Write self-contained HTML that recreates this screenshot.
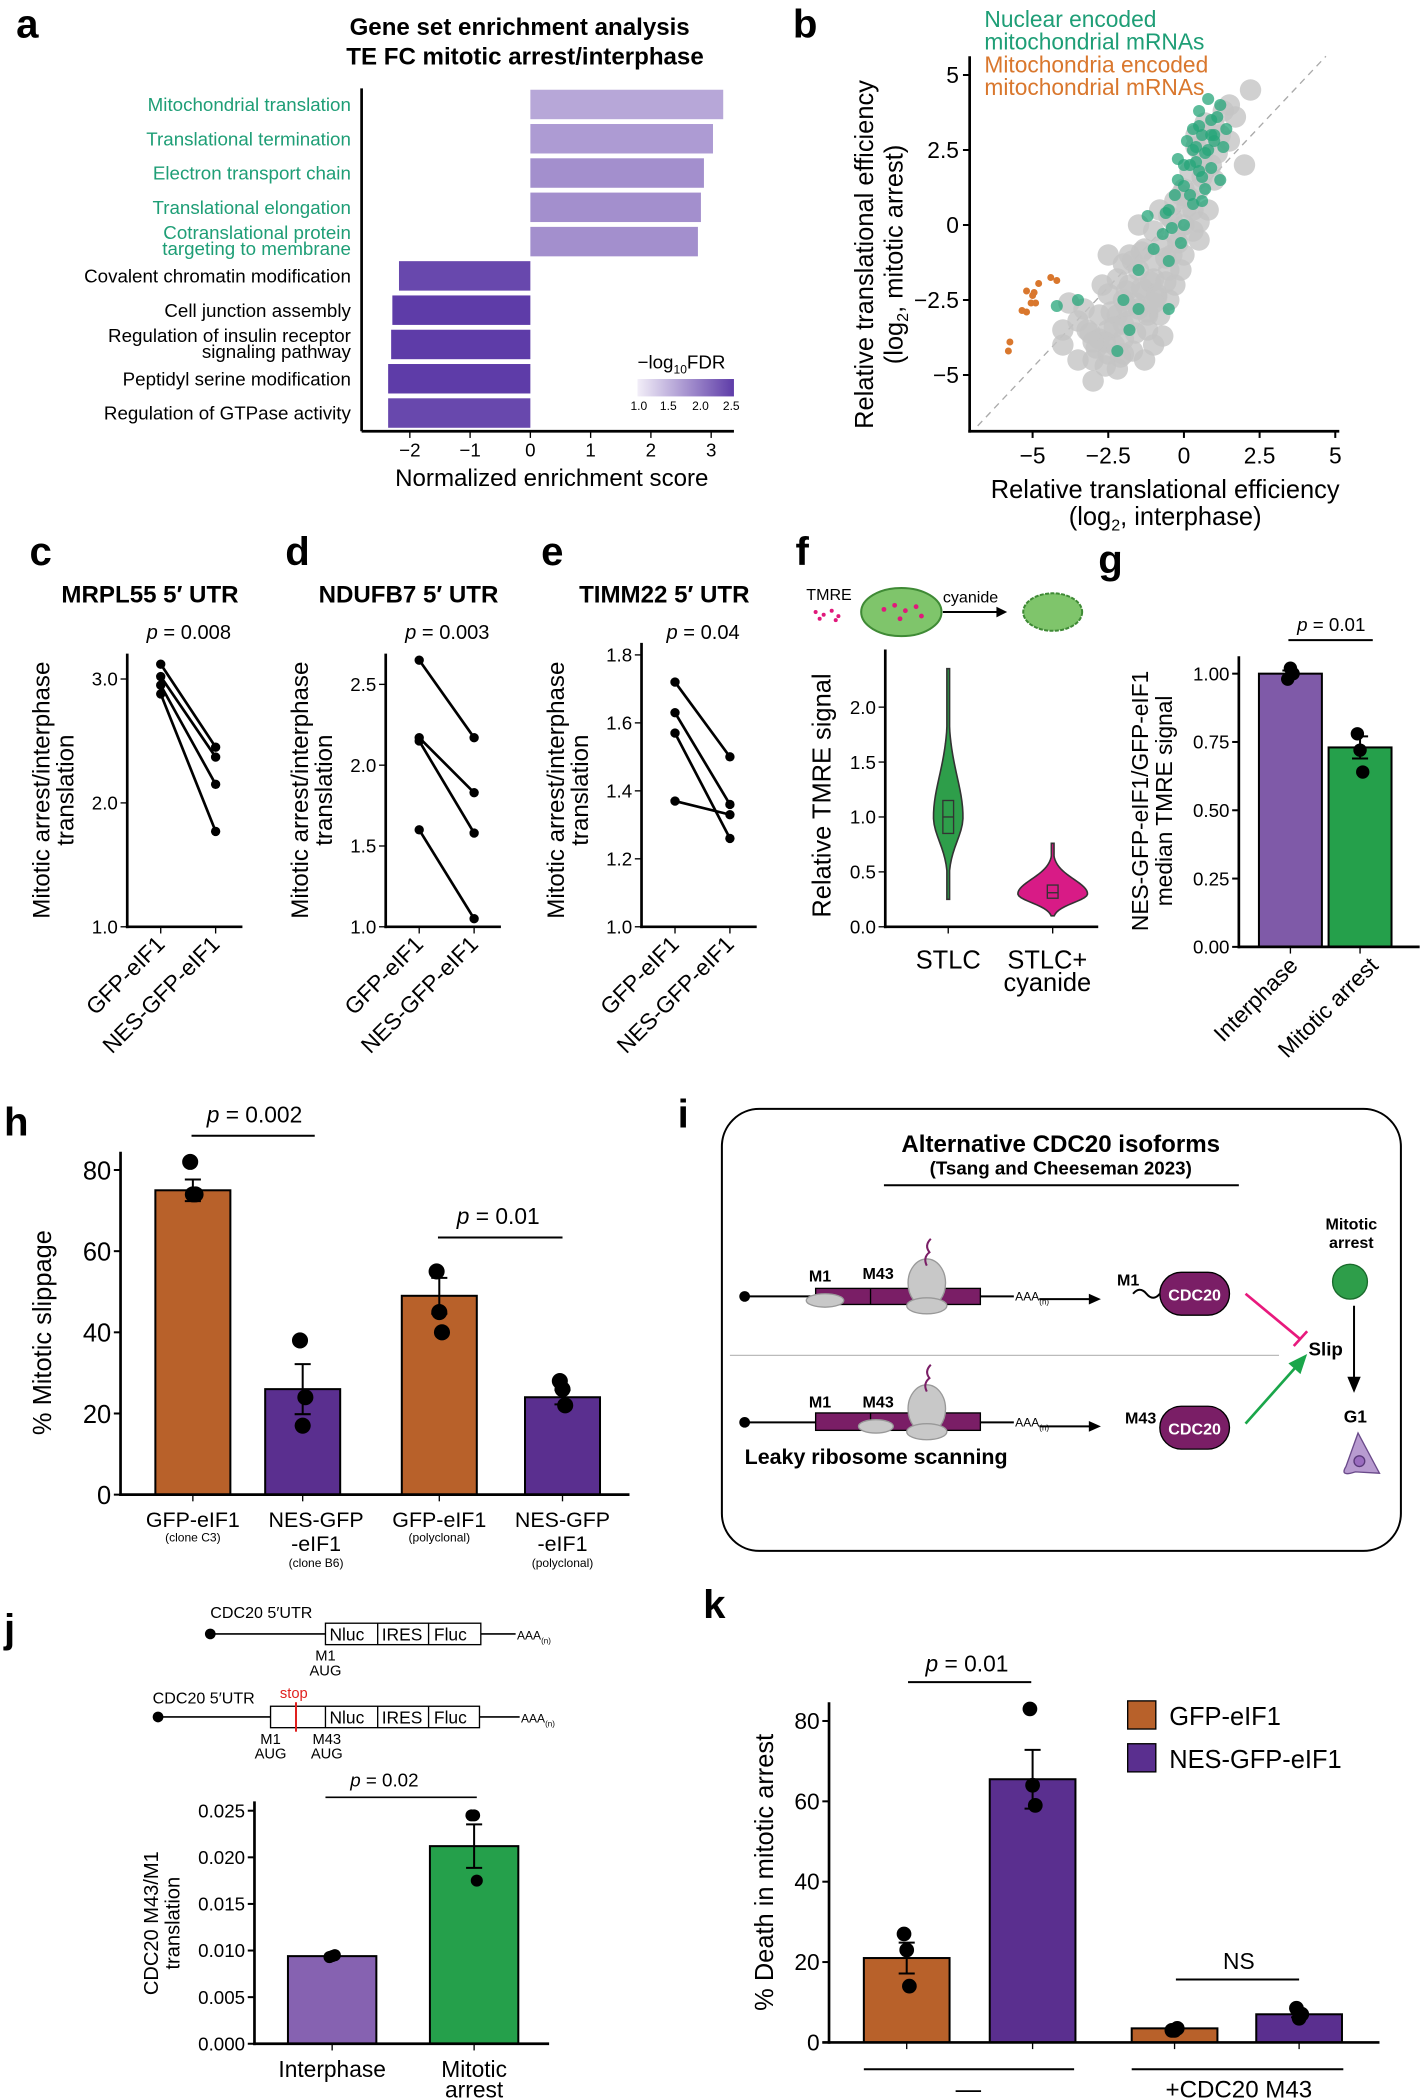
<!DOCTYPE html>
<html><head><meta charset="utf-8">
<style>
html,body{margin:0;padding:0;background:#fff;}
svg{display:block;font-family:"Liberation Sans",sans-serif;}
.lt{font-size:30px;font-weight:bold;}
.tk{font-size:14px;}
.ax{stroke:#000;stroke-width:2;fill:none;}
</style></head>
<body>
<svg id="fig" width="1421" height="2100" viewBox="0 0 1061 1568" xmlns="http://www.w3.org/2000/svg">
<defs>
<linearGradient id="gr" x1="0" x2="1"><stop offset="0" stop-color="#f2eef8"/><stop offset="1" stop-color="#5e3ca8"/></linearGradient>
</defs>
<g class="lt">
<text x="12" y="28">a</text><text x="592" y="28">b</text><text x="22" y="422">c</text><text x="213" y="422">d</text><text x="404" y="422">e</text><text x="594" y="422">f</text><text x="820" y="428">g</text><text x="3" y="848">h</text><text x="506" y="842">i</text><text x="3" y="1226">j</text><text x="525" y="1208">k</text>
</g>

<!-- Panel a -->
<g>
<text x="388" y="26" text-anchor="middle" font-size="18" font-weight="bold">Gene set enrichment analysis</text>
<text x="392" y="48" text-anchor="middle" font-size="18" font-weight="bold">TE FC mitotic arrest/interphase</text>
<g id="aBars"></g>
<g id="aLabels" font-size="14" text-anchor="end"></g>
<line class="ax" x1="270" y1="66" x2="270" y2="322"/>
<line class="ax" x1="270" y1="322" x2="548" y2="322"/>
<g id="aTicks" class="tk" text-anchor="middle"></g>
<text x="412" y="363" text-anchor="middle" font-size="18">Normalized enrichment score</text>
<g>
<text x="476" y="275" font-size="14">−log<tspan font-size="9" dy="4">10</tspan><tspan dy="-4">FDR</tspan></text>
<rect x="476" y="283" width="72" height="13" fill="url(#gr)"/>
<g font-size="9" text-anchor="middle"><text x="477" y="306">1.0</text><text x="499" y="306">1.5</text><text x="523" y="306">2.0</text><text x="546" y="306">2.5</text></g>
</g>
</g>

<!-- Panel b -->
<g>
<g font-size="17">
<text x="735" y="20" fill="#1e9e76">Nuclear encoded</text>
<text x="735" y="37" fill="#1e9e76">mitochondrial mRNAs</text>
<text x="735" y="54" fill="#d9772d">Mitochondria encoded</text>
<text x="735" y="71" fill="#d9772d">mitochondrial mRNAs</text>
</g>
<line x1="730" y1="318" x2="990" y2="42" stroke="#aaa" stroke-width="1" stroke-dasharray="5,4"/>
<g id="bPts"></g>
<line class="ax" x1="724" y1="42" x2="724" y2="323"/>
<line class="ax" x1="723" y1="322" x2="1000" y2="322"/>
<g id="bTicks" font-size="17"></g>
<text transform="translate(652,190) rotate(-90)" text-anchor="middle" font-size="19">Relative translational efficiency</text>
<text transform="translate(674,190) rotate(-90)" text-anchor="middle" font-size="19">(log<tspan font-size="12" dy="4">2</tspan><tspan dy="-4">, mitotic arrest)</tspan></text>
<text x="870" y="372" text-anchor="middle" font-size="19">Relative translational efficiency</text>
<text x="870" y="392" text-anchor="middle" font-size="19">(log<tspan font-size="12" dy="4">2</tspan><tspan dy="-4">, interphase)</tspan></text>
</g>

<g id="pairs"></g>

<!-- Panel f -->
<g>
<text x="602" y="448" font-size="12">TMRE</text>
<g fill="#e0197b"><circle cx="609" cy="457" r="1.5"/><circle cx="615" cy="459" r="1.5"/><circle cx="621" cy="456" r="1.5"/><circle cx="626" cy="460" r="1.5"/><circle cx="612" cy="462" r="1.5"/><circle cx="624" cy="463" r="1.5"/></g>
<ellipse cx="673" cy="457" rx="30" ry="18" fill="#7fc56b" stroke="#3f8a35" stroke-width="1.5"/>
<g fill="#e0197b"><circle cx="660" cy="455" r="1.8"/><circle cx="668" cy="452" r="1.8"/><circle cx="676" cy="456" r="1.8"/><circle cx="684" cy="453" r="1.8"/><circle cx="672" cy="462" r="1.8"/><circle cx="688" cy="460" r="1.8"/></g>
<text x="704" y="450" font-size="12">cyanide</text>
<line x1="704" y1="457" x2="748" y2="457" stroke="#000" stroke-width="1.5"/><polygon points="752,457 744,453 744,461"/>
<ellipse cx="786" cy="457" rx="22" ry="14" fill="#7fc56b" stroke="#3f8a35" stroke-width="1.5" stroke-dasharray="3,1"/>
<g id="fViol"></g>
<line class="ax" x1="661" y1="485" x2="661" y2="693"/>
<line class="ax" x1="660" y1="692" x2="820" y2="692"/>
<g id="fTicks" class="tk" text-anchor="end"></g>
<text transform="translate(620,594) rotate(-90)" text-anchor="middle" font-size="19">Relative TMRE signal</text>
<text x="708" y="723" text-anchor="middle" font-size="19">STLC</text>
<text x="782" y="723" text-anchor="middle" font-size="19">STLC+</text>
<text x="782" y="740" text-anchor="middle" font-size="19">cyanide</text>
</g>

<!-- Panel g -->
<g>
<g id="gBars"></g>
<line class="ax" x1="925" y1="490" x2="925" y2="708"/>
<line class="ax" x1="924" y1="707" x2="1060" y2="707"/>
<g id="gTicks" class="tk" text-anchor="end"></g>
<text x="994" y="471" text-anchor="middle" font-size="14"><tspan font-style="italic">p</tspan> = 0.01</text>
<line x1="962" y1="478" x2="1025" y2="478" stroke="#000" stroke-width="1.5"/>
<text transform="translate(857,598) rotate(-90)" text-anchor="middle" font-size="17">NES-GFP-eIF1/GFP-eIF1</text>
<text transform="translate(875,598) rotate(-90)" text-anchor="middle" font-size="17">median TMRE signal</text>
<text transform="translate(970,722) rotate(-45)" text-anchor="end" font-size="17">Interphase</text>
<text transform="translate(1030,722) rotate(-45)" text-anchor="end" font-size="17">Mitotic arrest</text>
</g>

<!-- Panel h -->
<g>
<g id="hBars"></g>
<line class="ax" x1="90" y1="860" x2="90" y2="1117"/>
<line class="ax" x1="89" y1="1116" x2="470" y2="1116"/>
<g id="hTicks" font-size="19" text-anchor="end"></g>
<text transform="translate(38,995) rotate(-90)" text-anchor="middle" font-size="19">% Mitotic slippage</text>
<text x="190" y="838" text-anchor="middle" font-size="17"><tspan font-style="italic">p</tspan> = 0.002</text>
<line x1="143" y1="848" x2="235" y2="848" stroke="#000" stroke-width="1.5"/>
<text x="372" y="914" text-anchor="middle" font-size="17"><tspan font-style="italic">p</tspan> = 0.01</text>
<line x1="327" y1="924" x2="420" y2="924" stroke="#000" stroke-width="1.5"/>
<g font-size="16" text-anchor="middle">
<text x="144" y="1140">GFP-eIF1</text><text x="144" y="1151" font-size="9">(clone C3)</text>
<text x="236" y="1140">NES-GFP</text><text x="236" y="1158">-eIF1</text><text x="236" y="1170" font-size="9">(clone B6)</text>
<text x="328" y="1140">GFP-eIF1</text><text x="328" y="1151" font-size="9">(polyclonal)</text>
<text x="420" y="1140">NES-GFP</text><text x="420" y="1158">-eIF1</text><text x="420" y="1170" font-size="9">(polyclonal)</text>
</g>
</g>

<!-- Panel i -->
<g>
<rect x="539" y="828" width="507" height="330" rx="28" fill="none" stroke="#000" stroke-width="1.5"/>
<text x="792" y="860" text-anchor="middle" font-size="18" font-weight="bold">Alternative CDC20 isoforms</text>
<text x="792" y="877" text-anchor="middle" font-size="14" font-weight="bold">(Tsang and Cheeseman 2023)</text>
<line x1="660" y1="885" x2="925" y2="885" stroke="#000" stroke-width="1.5"/>
<circle cx="556" cy="968" r="4"/>
<line x1="556" y1="968" x2="757" y2="968" stroke="#000" stroke-width="1.5"/>
<rect x="609" y="962" width="123" height="12" fill="#7a1e66" stroke="#000"/>
<line x1="650" y1="962" x2="650" y2="974" stroke="#000"/>
<text x="604" y="957" font-size="12" font-weight="bold">M1</text><text x="644" y="955" font-size="12" font-weight="bold">M43</text>
<ellipse cx="616" cy="971" rx="14" ry="5" fill="#c8c8c8" stroke="#999"/>
<ellipse cx="692" cy="958" rx="14" ry="18" fill="#c8c8c8" stroke="#999"/>
<ellipse cx="692" cy="975" rx="15" ry="6" fill="#c8c8c8" stroke="#999"/>
<path d="M692 945 q-3 -6 2 -10 q-4 -5 1 -10" stroke="#7a1e66" fill="none" stroke-width="1.5"/>
<text x="758" y="971" font-size="9">AAA<tspan font-size="6" dy="3">(n)</tspan></text>
<line x1="776" y1="970" x2="816" y2="970" stroke="#000" stroke-width="1.5"/><polygon points="822,970 813,966 813,974"/>
<text x="834" y="960" font-size="12" font-weight="bold">M1</text>
<path d="M846 966 q5 -6 10 0 q5 6 10 0" stroke="#000" fill="none" stroke-width="1.5"/>
<rect x="866" y="950" width="52" height="32" rx="16" fill="#7a1e66" stroke="#000"/>
<text x="892" y="971" text-anchor="middle" font-size="12" font-weight="bold" fill="#fff">CDC20</text>
<line x1="930" y1="966" x2="971" y2="1000" stroke="#e8197d" stroke-width="2"/>
<line x1="966" y1="1005" x2="976" y2="994" stroke="#e8197d" stroke-width="2"/>
<line x1="545" y1="1012" x2="955" y2="1012" stroke="#bbb" stroke-width="1"/>
<circle cx="556" cy="1062" r="4"/>
<line x1="556" y1="1062" x2="757" y2="1062" stroke="#000" stroke-width="1.5"/>
<rect x="609" y="1055" width="123" height="13" fill="#7a1e66" stroke="#000"/>
<line x1="650" y1="1055" x2="650" y2="1068" stroke="#000"/>
<text x="604" y="1051" font-size="12" font-weight="bold">M1</text><text x="644" y="1051" font-size="12" font-weight="bold">M43</text>
<ellipse cx="654" cy="1065" rx="13" ry="5" fill="#c8c8c8" stroke="#999"/>
<ellipse cx="692" cy="1052" rx="14" ry="18" fill="#c8c8c8" stroke="#999"/>
<ellipse cx="692" cy="1069" rx="15" ry="6" fill="#c8c8c8" stroke="#999"/>
<path d="M692 1039 q-3 -6 2 -10 q-4 -5 1 -10" stroke="#7a1e66" fill="none" stroke-width="1.5"/>
<text x="758" y="1065" font-size="9">AAA<tspan font-size="6" dy="3">(n)</tspan></text>
<line x1="776" y1="1065" x2="816" y2="1065" stroke="#000" stroke-width="1.5"/><polygon points="822,1065 813,1061 813,1069"/>
<text x="840" y="1063" font-size="12" font-weight="bold">M43</text>
<rect x="866" y="1050" width="52" height="32" rx="16" fill="#7a1e66" stroke="#000"/>
<text x="892" y="1071" text-anchor="middle" font-size="12" font-weight="bold" fill="#fff">CDC20</text>
<text x="556" y="1093" font-size="16" font-weight="bold">Leaky ribosome scanning</text>
<line x1="930" y1="1063" x2="970" y2="1018" stroke="#1aa64a" stroke-width="2"/><polygon points="976,1011 962,1018 971,1026" fill="#1aa64a"/>
<text x="977" y="1012" font-size="14" font-weight="bold">Slip</text>
<text x="1009" y="918" text-anchor="middle" font-size="12" font-weight="bold">Mitotic</text>
<text x="1009" y="932" text-anchor="middle" font-size="12" font-weight="bold">arrest</text>
<circle cx="1008" cy="957" r="13" fill="#2e9e4a" stroke="#1a6a2c"/>
<line x1="1011" y1="975" x2="1011" y2="1030" stroke="#000" stroke-width="1.5"/><polygon points="1011,1040 1006,1028 1016,1028"/>
<text x="1012" y="1062" text-anchor="middle" font-size="13" font-weight="bold">G1</text>
<path d="M1014 1070 L1005 1095 Q1000 1103 1012 1099 L1030 1100 Z" fill="#b89bd0" stroke="#6a4a8a"/>
<circle cx="1015" cy="1091" r="4" fill="#9a6cbf" stroke="#5a3a7a"/>
</g>

<!-- Panel j -->
<g>
<g>
<text x="157" y="1208" font-size="12">CDC20 5′UTR</text>
<circle cx="157" cy="1220" r="4"/>
<line x1="157" y1="1220" x2="385" y2="1220" stroke="#000" stroke-width="1.2"/>
<rect x="243" y="1212" width="116" height="16" fill="#fff" stroke="#000"/>
<line x1="282" y1="1212" x2="282" y2="1228" stroke="#000"/><line x1="320" y1="1212" x2="320" y2="1228" stroke="#000"/>
<g font-size="13"><text x="246" y="1225">Nluc</text><text x="285" y="1225">IRES</text><text x="324" y="1225">Fluc</text></g>
<text x="386" y="1224" font-size="9">AAA<tspan font-size="6" dy="3">(n)</tspan></text>
<text x="243" y="1240" font-size="11" text-anchor="middle">M1</text><text x="243" y="1251" font-size="11" text-anchor="middle">AUG</text>
</g>
<g>
<text x="114" y="1272" font-size="12">CDC20 5′UTR</text>
<text x="209" y="1268" font-size="11" fill="#e0201e">stop</text>
<circle cx="118" cy="1282" r="4"/>
<line x1="118" y1="1282" x2="388" y2="1282" stroke="#000" stroke-width="1.2"/>
<rect x="202" y="1274" width="156" height="16" fill="#fff" stroke="#000"/>
<line x1="221" y1="1271" x2="221" y2="1293" stroke="#e0201e" stroke-width="1.5"/>
<line x1="243" y1="1274" x2="243" y2="1290" stroke="#000"/><line x1="282" y1="1274" x2="282" y2="1290" stroke="#000"/><line x1="320" y1="1274" x2="320" y2="1290" stroke="#000"/>
<g font-size="13"><text x="246" y="1287">Nluc</text><text x="285" y="1287">IRES</text><text x="324" y="1287">Fluc</text></g>
<text x="389" y="1286" font-size="9">AAA<tspan font-size="6" dy="3">(n)</tspan></text>
<text x="202" y="1302" font-size="11" text-anchor="middle">M1</text><text x="202" y="1313" font-size="11" text-anchor="middle">AUG</text>
<text x="244" y="1302" font-size="11" text-anchor="middle">M43</text><text x="244" y="1313" font-size="11" text-anchor="middle">AUG</text>
</g>
<g id="jBars"></g>
<line class="ax" x1="190" y1="1345" x2="190" y2="1527"/>
<line class="ax" x1="189" y1="1526" x2="410" y2="1526"/>
<g id="jTicks" class="tk" text-anchor="end"></g>
<text x="287" y="1334" text-anchor="middle" font-size="14"><tspan font-style="italic">p</tspan> = 0.02</text>
<line x1="243" y1="1342" x2="356" y2="1342" stroke="#000" stroke-width="1.2"/>
<text transform="translate(118,1436) rotate(-90)" text-anchor="middle" font-size="15">CDC20 M43/M1</text>
<text transform="translate(134,1436) rotate(-90)" text-anchor="middle" font-size="15">translation</text>
<text x="248" y="1551" text-anchor="middle" font-size="17">Interphase</text>
<text x="354" y="1551" text-anchor="middle" font-size="17">Mitotic</text>
<text x="354" y="1566" text-anchor="middle" font-size="17">arrest</text>
</g>

<!-- Panel k -->
<g>
<g id="kBars"></g>
<line class="ax" x1="619" y1="1271" x2="619" y2="1526"/>
<line class="ax" x1="614" y1="1525" x2="1030" y2="1525"/>
<g id="kTicks" font-size="17" text-anchor="end"></g>
<text transform="translate(577,1398) rotate(-90)" text-anchor="middle" font-size="19">% Death in mitotic arrest</text>
<text x="722" y="1248" text-anchor="middle" font-size="17"><tspan font-style="italic">p</tspan> = 0.01</text>
<line x1="678" y1="1256" x2="770" y2="1256" stroke="#000" stroke-width="1.5"/>
<text x="925" y="1470" text-anchor="middle" font-size="17">NS</text>
<line x1="878" y1="1478" x2="970" y2="1478" stroke="#000" stroke-width="1.5"/>
<line x1="645" y1="1545" x2="802" y2="1545" stroke="#000" stroke-width="1.5"/>
<line x1="845" y1="1545" x2="1003" y2="1545" stroke="#000" stroke-width="1.5"/>
<text x="723" y="1566" text-anchor="middle" font-size="19">—</text>
<text x="925" y="1566" text-anchor="middle" font-size="18">+CDC20 M43</text>
<g>
<rect x="842" y="1270" width="21" height="21" fill="#b8612a" stroke="#000"/>
<text x="873" y="1288" font-size="19">GFP-eIF1</text>
<rect x="842" y="1302" width="21" height="21" fill="#5a2f8f" stroke="#000"/>
<text x="873" y="1320" font-size="19">NES-GFP-eIF1</text>
</g>
</g>
</svg>
<script>
const NS='http://www.w3.org/2000/svg';
function mk(tag,attrs,parent){const e=document.createElementNS(NS,tag);for(const k in attrs)e.setAttribute(k,attrs[k]);parent.appendChild(e);return e;}
function $(id){return document.getElementById(id);}

// ---------- Panel a data ----------
const aTerms=['Mitochondrial translation','Translational termination','Electron transport chain','Translational elongation','Cotranslational protein|targeting to membrane','Covalent chromatin modification','Cell junction assembly','Regulation of insulin receptor|signaling pathway','Peptidyl serine modification','Regulation of GTPase activity'];
const aNES=[3.2,3.03,2.88,2.83,2.78,-2.18,-2.29,-2.31,-2.36,-2.36];
const aFDR=[1.6,1.7,1.8,1.8,1.8,2.4,2.5,2.5,2.5,2.4];
const aTickVals=[-2,-1,0,1,2,3];
const aTickLabels=['−2','−1','0','1','2','3'];
const ax=v=>396+v*45, ay=i=>78+i*25.6;
function aColor(f){const t=(f-1)/1.5;const c0=[242,238,248],c1=[94,60,168];return 'rgb('+c0.map((c,j)=>Math.round(c+(c1[j]-c)*t)).join(',')+')';}
aNES.forEach((v,i)=>{
  const r=mk('rect',{x:Math.min(ax(0),ax(v)),y:ay(i)-11,width:Math.abs(ax(v)-ax(0)),height:22,fill:aColor(aFDR[i])},$('aBars'));
  
  
  const lines=aTerms[i].split('|');const col=i<5?'#1e9e76':'#000';
  lines.forEach((l,j)=>{const t=mk('text',{x:262,y:ay(i)+5+(lines.length>1?(j?5:-7):0),fill:col},$('aLabels'));t.textContent=l;
    
    });
});
aTickVals.forEach((v,i)=>{mk('line',{x1:ax(v),y1:322,x2:ax(v),y2:327,stroke:'#000'},$('aTicks'));const t=mk('text',{x:ax(v),y:341},$('aTicks'));t.textContent=aTickLabels[i];});

// ---------- Panel b data ----------
const greyX=[-3.5,-3,-2.5,-2.8,-3.2,-2.5,-2,-1.8,-2.2,-2.8,-1.5,-2,-2.5,-1.3,-1.8,-1,-1.5,-2,-1,-0.5,-1.3,-0.7,-1,-0.3,-0.5,0,0.3,-0.3,0,0.5,0.2,0.6,0.8,1,1.3,1.5,-3.8,-3.5,-4,-2.2,-1.2,-0.5,-0.8,0,0.5,-1.7,-2.2,-3,-1.5,-2.5,-4,0.8,1,1.5,2,2.2,-1,-0.3,-2.7,-3.3,-1.8,0.3,-0.8,0.9,0.4,-2.3,-1.3,-2.6,-2.0,-1.6,-1.1,-0.6,-0.2,0.1,0.6,1.1,-2.9,-2.4,-1.9,-1.4,-0.9,-0.4,0.7,1.2,1.7,-3.1,-2.1,-1.2,-0.1,0.4,-2.3,-1.9,-1.6,-1.4,-1.2,-0.9,-0.6,-0.4,-0.1,0.2,0.5,-2.0,-1.7,-1.0,-0.7,-2.6,-3.0];
const greyY=[-4.5,-4.5,-4.3,-3.8,-3.5,-3.5,-3.8,-3.2,-3,-3,-2.8,-2.5,-2.3,-2.2,-2,-1.8,-1.5,-1.3,-1.2,-1.5,-0.8,-0.7,-0.2,-0.3,0.3,0,0.5,0.8,1.2,1.2,1.8,2.2,2.8,3.3,3.8,4,-2.6,-3.2,-3.5,-1.8,-3.5,-2.5,-3,-1,-0.5,-4.2,-4.8,-5.2,0,-1,-4,0.5,1.5,2.8,2,4.5,-4,-2,-2,-2.8,-1,-0.2,0.5,2,3,-4,-4.5,-3.9,-3.3,-2.6,-1.9,-1.1,-0.6,0.6,1.6,2.4,-4.1,-2.9,-2.2,-0.9,-2.4,0.2,3.4,3.0,3.6,-3.6,-4.4,-2.9,1.0,2.6,-3.4,-2.7,-3.6,-2.1,-3.0,-2.3,-1.9,-1.0,-1.5,0.9,0.1,-4.3,-1.2,-2.6,-3.7,-4.7,-3.9];
const greenX=[0,0.3,0.6,0.9,1.2,-0.2,0.2,-0.5,-0.3,0.5,0.8,1,0.3,-0.7,-1,-1.5,-0.5,-2,-1.5,-0.5,-3.5,-4.2,-1.8,-2.2,1.2,0,-1.2,0.7,1.4,0.1,-0.2,0.5,0.9,0.4,-0.1,0.6,1.0,0.2,0.4,0.7,0.9,1.1,0.0,0.3,0.6,-0.4,-0.6,0.8,1.3,0.5];
const greenY=[2,2.5,3,3.5,4,1.5,1,0.5,1,1.8,2.5,2.8,3.2,-0.3,-0.8,-1.5,-1.2,-2.5,-2.8,-2.8,-2.5,-2.7,-3.5,-4.2,1.5,0,0.3,1.2,3.2,2.8,2.2,3.8,1.9,2.1,-0.6,0.8,3.0,2.0,2.6,2.4,3.0,3.6,1.3,0.7,1.6,-0.1,0.4,4.2,2.6,3.3];
const orangeX=[-5.8,-5.75,-5.35,-5.2,-5.2,-5.0,-4.95,-5.05,-4.9,-4.8,-4.4,-4.2];
const orangeY=[-4.2,-3.9,-2.85,-2.9,-2.2,-2.35,-2.25,-2.6,-2.6,-1.95,-1.75,-1.85];
const bTicks=[-5,-2.5,0,2.5,5];
const bTickLabels=['−5','−2.5','0','2.5','5'];
const bx=v=>884+v*22.6, by=v=>168-v*22.4;
greyX.forEach((x,i)=>{const c=mk('circle',{cx:bx(x),cy:by(greyY[i]),r:8,fill:'#c4c4c4','fill-opacity':0.8},$('bPts'));
  
  });
greenX.forEach((x,i)=>{const c=mk('circle',{cx:bx(x),cy:by(greenY[i]),r:4.5,fill:'#26a67a','fill-opacity':0.75},$('bPts'));
  
  });
orangeX.forEach((x,i)=>{const c=mk('circle',{cx:bx(x),cy:by(orangeY[i]),r:2.6,fill:'#d9772d'},$('bPts'));
  
  });
bTicks.forEach((v,i)=>{
  mk('line',{x1:bx(v),y1:322,x2:bx(v),y2:327,stroke:'#000','stroke-width':1.5},$('bTicks'));
  let t=mk('text',{x:bx(v),y:346,'text-anchor':'middle'},$('bTicks'));t.textContent=bTickLabels[i];
  mk('line',{x1:719,y1:by(v),x2:724,y2:by(v),stroke:'#000','stroke-width':1.5},$('bTicks'));
  t=mk('text',{x:716,y:by(v)+6,'text-anchor':'end'},$('bTicks'));t.textContent=bTickLabels[i];
});

// ---------- Panels c,d,e data ----------
const cdeTitles=['MRPL55 5′ UTR','NDUFB7 5′ UTR','TIMM22 5′ UTR'];
const cdeP=['0.008','0.003','0.04'];
const cGFP=[3.12,3.02,2.95,2.88], cNES=[2.45,2.37,2.15,1.77];
const dGFP=[2.65,2.17,2.15,1.6], dNES=[2.17,1.83,1.58,1.05];
const eGFP=[1.72,1.63,1.57,1.37], eNES=[1.5,1.36,1.26,1.33];
const cTicks=[1.0,2.0,3.0], dTicks=[1.0,1.5,2.0,2.5], eTicks=[1.0,1.2,1.4,1.6,1.8];
const cdeCfg=[
 {x0:95,min:1,max:3,top:507,ticks:cTicks,g:cGFP,n:cNES,ytop:488},
 {x0:288,min:1,max:2.5,top:511,ticks:dTicks,g:dGFP,n:dNES,ytop:488},
 {x0:479,min:1,max:1.8,top:489,ticks:eTicks,g:eGFP,n:eNES,ytop:480}];
cdeCfg.forEach((c,k)=>{
  const g=mk('g',{},$('pairs'));
  
  
  const yy=v=>692-(v-c.min)/(c.max-c.min)*(692-c.top);
  const x1=c.x0+25,x2=c.x0+66;
  let t=mk('text',{x:c.x0+17,y:450,'text-anchor':'middle','font-size':18,'font-weight':'bold'},g);t.textContent=cdeTitles[k];
  t=mk('text',{x:c.x0+46,y:477,'text-anchor':'middle','font-size':15},g);t.innerHTML='<tspan font-style="italic">p</tspan> = '+cdeP[k];
  mk('line',{x1:c.x0,y1:c.ytop,x2:c.x0,y2:693,class:'ax'},g);
  mk('line',{x1:c.x0-1,y1:692,x2:c.x0+86,y2:692,class:'ax'},g);
  c.ticks.forEach(v=>{mk('line',{x1:c.x0-5,y1:yy(v),x2:c.x0,y2:yy(v),stroke:'#000'},g);t=mk('text',{x:c.x0-7,y:yy(v)+5,'text-anchor':'end','font-size':14},g);t.textContent=v.toFixed(1);});
  [x1,x2].forEach(x=>mk('line',{x1:x,y1:692,x2:x,y2:697,stroke:'#000'},g));
  c.g.forEach((v,i)=>{
    const l=mk('line',{x1:x1,y1:yy(v),x2:x2,y2:yy(c.n[i]),stroke:'#000','stroke-width':2},g);
    
    
    const p1=mk('circle',{cx:x1,cy:yy(v),r:3.5},g);
    
    
    const p2=mk('circle',{cx:x2,cy:yy(c.n[i]),r:3.5},g);
    
    
  });
  t=mk('text',{transform:'translate('+(c.x0-58)+',590) rotate(-90)','text-anchor':'middle','font-size':18},g);t.textContent='Mitotic arrest/interphase';
  t=mk('text',{transform:'translate('+(c.x0-40)+',590) rotate(-90)','text-anchor':'middle','font-size':18},g);t.textContent='translation';
  t=mk('text',{transform:'translate('+(x1+4)+',706) rotate(-45)','text-anchor':'end','font-size':17},g);t.textContent='GFP-eIF1';
  t=mk('text',{transform:'translate('+(x2+4)+',706) rotate(-45)','text-anchor':'end','font-size':17},g);t.textContent='NES-GFP-eIF1';
});

// ---------- Panel f data ----------
const fGroups=['STLC','STLC+cyanide'];
const fMedian=[1.0,0.31], fQ1=[0.85,0.26], fQ3=[1.15,0.38];
const fMin=[0.25,0.1], fMax=[2.35,0.76];
const fPeakW=[11,26], fPeakAt=[1.0,0.3], fSpread=[0.22,0.08];
const fColors=['#2e9e4a','#d81b86'];
const fTicks=[0,0.5,1.0,1.5,2.0];
const fy=v=>692-v*82, fx=i=>708+i*78;
fGroups.forEach((n,i)=>{
  const cx=fx(i);let r='',l='';const N=40;
  for(let k=0;k<=N;k++){const v=fMin[i]+(fMax[i]-fMin[i])*k/N;const d=(v-fPeakAt[i])/fSpread[i]*(v>fPeakAt[i]?0.6:1);const w=Math.max(1,fPeakW[i]*Math.exp(-d*d/2));r+=(k?'L':'M')+(cx+w)+' '+fy(v);l=' L'+(cx-w)+' '+fy(v)+l;}
  const p=mk('path',{d:r+l+'Z',fill:fColors[i],stroke:'#333','stroke-width':1.2},$('fViol'));
  
  
  const b=mk('rect',{x:cx-4,y:fy(fQ3[i]),width:8,height:fy(fQ1[i])-fy(fQ3[i]),fill:'none',stroke:'#333'},$('fViol'));
  
  
  mk('line',{x1:cx-4,y1:fy(fMedian[i]),x2:cx+4,y2:fy(fMedian[i]),stroke:'#333'},$('fViol'));
  mk('line',{x1:cx,y1:692,x2:cx,y2:697,stroke:'#000'},$('fViol'));
});
fTicks.forEach(v=>{mk('line',{x1:656,y1:fy(v),x2:661,y2:fy(v),stroke:'#000'},$('fTicks'));const t=mk('text',{x:654,y:fy(v)+5},$('fTicks'));t.textContent=v.toFixed(1);});

// ---------- generic bar helper ----------
function barChart(cfg){
  const {g,yy,base,vals,pts,x,w,colors,ptsR}=cfg;
  vals.forEach((v,i)=>{
    const r=mk('rect',{x:x[i],y:yy(v),width:w,height:base-yy(v),fill:colors[i],stroke:'#000','stroke-width':1.5},g);
    
    
    const p=pts[i];const m=p.reduce((a,b)=>a+b,0)/p.length;
    const se=Math.sqrt(p.reduce((a,b)=>a+(b-m)*(b-m),0)/(p.length-1)/p.length);
    const cx=x[i]+w/2;
    mk('line',{x1:cx,y1:yy(v+se),x2:cx,y2:yy(v-se),stroke:'#000','stroke-width':1.5},g);
    mk('line',{x1:cx-6,y1:yy(v+se),x2:cx+6,y2:yy(v+se),stroke:'#000','stroke-width':1.5},g);
    mk('line',{x1:cx-6,y1:yy(v-se),x2:cx+6,y2:yy(v-se),stroke:'#000','stroke-width':1.5},g);
    p.forEach((pv,j)=>{const c=mk('circle',{cx:cx+(j-1)*2,cy:yy(pv),r:ptsR},g);
      
      });
    mk('line',{x1:cx,y1:base,x2:cx,y2:base+5,stroke:'#000'},g);
  });
}
function ticks(g,yy,x0,vals,labels,dy){vals.forEach((v,i)=>{mk('line',{x1:x0-5,y1:yy(v),x2:x0,y2:yy(v),stroke:'#000','stroke-width':1.5},g);const t=mk('text',{x:x0-7,y:yy(v)+dy},g);t.textContent=labels[i];});}

// ---------- Panel g ----------
const gCats=['Interphase','Mitotic arrest'];
const gVals=[1.0,0.73];
const gPts=[[0.98,1.02,1.0],[0.78,0.72,0.64]];
const gTickV=[0,0.25,0.5,0.75,1.0];
const gTickL=['0.00','0.25','0.50','0.75','1.00'];
const gy=v=>707-v*204;
barChart({g:$('gBars'),yy:gy,base:707,vals:gVals,pts:gPts,x:[940,992],w:47,colors:['#7f5aa8','#25a04b'],ptsR:5});
ticks($('gTicks'),gy,925,gTickV,gTickL,5);

// ---------- Panel h ----------
const hCats=['GFP-eIF1 C3','NES-GFP-eIF1 B6','GFP-eIF1 poly','NES-GFP-eIF1 poly'];
const hVals=[75,26,49,24];
const hPts=[[82,74,74],[38,17,24],[55,45,40],[28,26,22]];
const hTickV=[0,20,40,60,80];
const hy=v=>1116-v*3.03;
barChart({g:$('hBars'),yy:hy,base:1116,vals:hVals,pts:hPts,x:[116,198,300,392],w:56,colors:['#b8612a','#5a2f8f','#b8612a','#5a2f8f'],ptsR:6});
ticks($('hTicks'),hy,90,hTickV,hTickV.map(String),7);

// ---------- Panel j ----------
const jCats=['Interphase','Mitotic arrest'];
const jVals=[0.0094,0.0212];
const jPts=[[0.0093,0.0094,0.0095],[0.0245,0.0245,0.0175]];
const jTickV=[0,0.005,0.01,0.015,0.02,0.025];
const jTickL=['0.000','0.005','0.010','0.015','0.020','0.025'];
const jy=v=>1526-v*6960;
barChart({g:$('jBars'),yy:jy,base:1526,vals:jVals,pts:jPts,x:[215,321],w:66,colors:['#8662b1','#25a04b'],ptsR:4.5});
ticks($('jTicks'),jy,190,jTickV,jTickL,5);

// ---------- Panel k ----------
const kCats=['GFP-eIF1','NES-GFP-eIF1','GFP-eIF1 +M43','NES-GFP-eIF1 +M43'];
const kVals=[21,65.5,3.5,7];
const kPts=[[27,23,14],[83,64,59],[3,3,3.5],[8.5,6,7]];
const kTickV=[0,20,40,60,80];
const ky=v=>1525-v*3;
barChart({g:$('kBars'),yy:ky,base:1525,vals:kVals,pts:kPts,x:[645,739,845,938],w:64,colors:['#b8612a','#5a2f8f','#b8612a','#5a2f8f'],ptsR:5.5});
ticks($('kTicks'),ky,619,kTickV,kTickV.map(String),6);
</script>
</body></html>
